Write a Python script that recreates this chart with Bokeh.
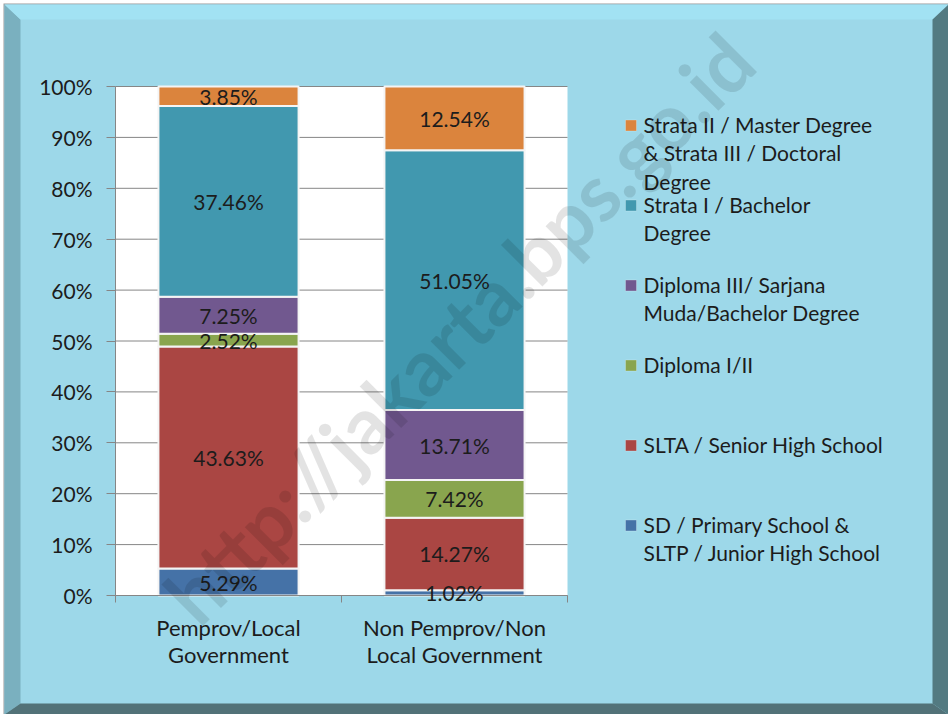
from bokeh.plotting import figure
from bokeh.models import (ColumnDataSource, Range1d, FixedTicker, PrintfTickFormatter,
                          LabelSet, Label, BoxAnnotation, PolyAnnotation, LinearAxis)
from bokeh.core.properties import value
from bokeh.embed import file_html
from bokeh.resources import INLINE

# ---------------- data ----------------
categories = ["Pemprov/Local\nGovernment", "Non Pemprov/Non\nLocal Government"]
series_keys = ["sd", "slta", "dip12", "dip3", "s1", "s23"]
legend_labels = [
    "SD / Primary School &\nSLTP / Junior High School",
    "SLTA / Senior High School",
    "Diploma I/II",
    "Diploma III/ Sarjana\nMuda/Bachelor Degree",
    "Strata I / Bachelor\nDegree",
    "Strata II / Master Degree\n& Strata III / Doctoral\nDegree",
]
sd = [5.29, 1.02]
slta = [43.63, 14.27]
dip12 = [2.52, 7.42]
dip3 = [7.25, 13.71]
s1 = [37.46, 51.05]
s23 = [3.85, 12.54]
y_ticks = [0, 10, 20, 30, 40, 50, 60, 70, 80, 90, 100]
colors = ["#4572A7", "#AA4643", "#89A54E", "#71588F", "#4198AF", "#DB843D"]
watermark = "http://jakarta.bps.go.id"

series_vals = [sd, slta, dip12, dip3, s1, s23]
ncat = len(categories)
ymax = 100

FONT = "Lato"
TXT = "#1c1c1c"
GRAY = "#868686"
BG = "#9dd8e9"

W, H = 948, 714
PL, PR, PT, PB = 115, 567, 86, 595          # plot area in canvas pixels
kx = (PR - PL) / ncat
ky = (PB - PT) / ymax

p = figure(width=W, height=H, title=None,
           x_range=Range1d(-PL / kx, ncat + (W - PR) / kx),
           y_range=Range1d(-(H - PB) / ky, ymax + PT / ky),
           output_backend="svg", toolbar_location=None,
           x_axis_type=None, y_axis_type=None,
           min_border=0, min_border_left=0, min_border_right=0,
           min_border_top=0, min_border_bottom=0)
p.background_fill_color = "white"
p.border_fill_color = "white"
p.outline_line_color = None
p.xgrid.visible = False
p.ygrid.visible = False


def S(Y):
    """canvas y (from top) -> screen units (from bottom)"""
    return H - Y


def box(l, r, t, b, color, level="underlay", line_color=None):
    return BoxAnnotation(left=l, right=r, top=S(t), bottom=S(b),
                         left_units="screen", right_units="screen",
                         top_units="screen", bottom_units="screen",
                         fill_color=color, fill_alpha=1.0,
                         line_color=line_color, line_width=1, level=level)


# ---------------- card with bevel ----------------
p.add_layout(box(3, W, 3, H, "#9a9a9a"))
p.add_layout(box(4, W, 4, H, BG))
bevels = [
    ([4, 20, 20, 4], [4, 19, 703, H], "#7ab0bf"),
    ([4, W, 932, 20], [4, 4, 19, 19], "#a2e2f3"),
    ([W, W, 932, 932], [4, H, 703, 19], "#537a81"),
    ([4, W, 932, 20], [H, H, 703, 703], "#527278"),
]
for xs, ys, c in bevels:
    p.add_layout(PolyAnnotation(xs=xs, ys=[S(v) for v in ys],
                                xs_units="screen", ys_units="screen",
                                fill_color=c, fill_alpha=1.0, line_color=None,
                                level="underlay"))

# white plot area (data units)
p.add_layout(BoxAnnotation(left=0, right=ncat, bottom=0, top=ymax,
                           fill_color="white", fill_alpha=1.0, line_color=None,
                           level="underlay"))

# ---------------- grid lines ----------------
p.segment(x0=[0] * len(y_ticks), x1=[ncat] * len(y_ticks), y0=y_ticks, y1=y_ticks,
          line_color=GRAY, line_width=1)

# ---------------- axes ----------------
yaxis = LinearAxis(ticker=FixedTicker(ticks=y_ticks), formatter=PrintfTickFormatter(format="%d%%"),
                   fixed_location=0, bounds=(0, ymax))
yaxis.axis_line_color = GRAY
yaxis.major_tick_line_color = GRAY
yaxis.major_tick_in = 0
yaxis.major_tick_out = 9
yaxis.minor_tick_line_color = None
yaxis.major_label_standoff = 14
yaxis.major_label_text_font = FONT
yaxis.major_label_text_font_size = "21px"
yaxis.major_label_text_color = TXT
p.add_layout(yaxis, "left")

centers = [i + 0.5 for i in range(ncat)]
bounds = [float(i) for i in range(ncat + 1)]
xaxis = LinearAxis(ticker=FixedTicker(ticks=centers, minor_ticks=bounds),
                   fixed_location=0, bounds=(0, ncat))
xaxis.major_label_overrides = {c: lab for c, lab in zip(centers, categories)}
xaxis.axis_line_color = GRAY
xaxis.major_tick_line_color = None
xaxis.major_tick_in = 0
xaxis.major_tick_out = 0
xaxis.minor_tick_line_color = GRAY
xaxis.minor_tick_in = 0
xaxis.minor_tick_out = 7
xaxis.major_label_standoff = 11
xaxis.major_label_text_font = FONT
xaxis.major_label_text_font_size = "22px"
xaxis.major_label_text_color = TXT
xaxis.major_label_text_line_height = 1.02
p.add_layout(xaxis, "below")

# ---------------- bars ----------------
data = {"x": centers}
for k, v in zip(series_keys, series_vals):
    data[k] = v
src = ColumnDataSource(data)
p.vbar_stack(series_keys, x="x", width=0.62, source=src,
             fill_color=colors, line_color="#f4f4f4", line_width=2)

# data labels
lx, ly, lt = [], [], []
for i, c in enumerate(centers):
    base = 0.0
    for v in series_vals:
        val = v[i]
        lx.append(c)
        ly.append(base + val / 2.0)
        lt.append("%.2f%%" % val)
        base += val
lsrc = ColumnDataSource(dict(x=lx, y=ly, text=lt))
p.add_layout(LabelSet(x="x", y="y", text="text", source=lsrc,
                      text_align="center", text_baseline="middle",
                      text_font=value(FONT), text_font_size="21px", text_color=TXT))

# ---------------- legend (top item = last series) ----------------
leg_top = 125
leg_step = 80
for j, idx in enumerate(reversed(range(len(series_keys)))):
    cy = leg_top + j * leg_step
    p.add_layout(box(625, 636, cy - 5.5, cy + 5.5, colors[idx], level="overlay",
                     line_color="#e6f4f8"))
    p.add_layout(Label(x=643, y=S(cy - 14), x_units="screen", y_units="screen",
                       text=legend_labels[idx], text_align="left", text_baseline="top",
                       text_font=FONT, text_font_size="21px", text_color=TXT,
                       text_line_height=1.15))

# ---------------- watermark ----------------
p.add_layout(Label(x=458, y=S(327), x_units="screen", y_units="screen",
                   text=watermark, angle=45, angle_units="deg",
                   text_align="center", text_baseline="middle",
                   text_font=FONT, text_font_style="bold", text_font_size="79px",
                   text_color="black", text_alpha=0.11))

open("out.html", "w").write(file_html(p, INLINE))
